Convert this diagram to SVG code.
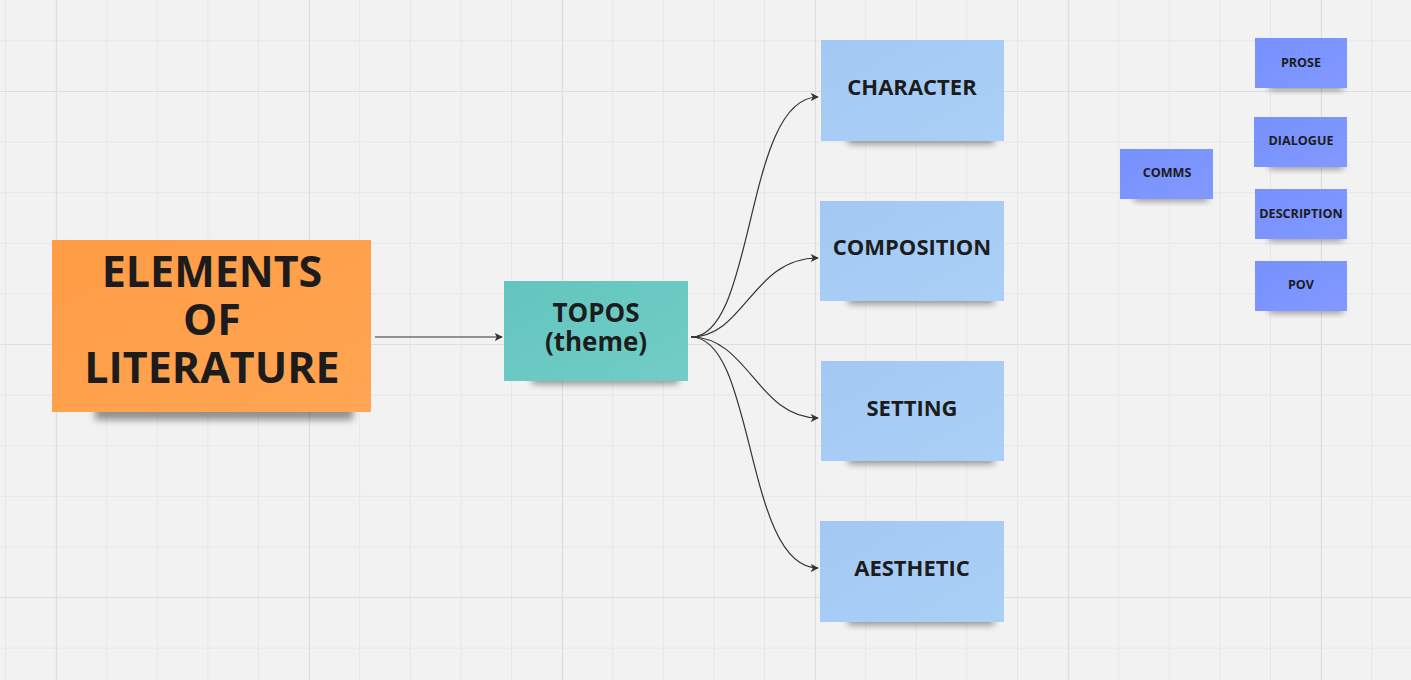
<svg xmlns="http://www.w3.org/2000/svg" width="1411" height="680" viewBox="0 0 1411 680">
<style>
.t{font-family:"Open Sans","Noto Sans","Liberation Sans",sans-serif;font-weight:700;fill:#1c1c1c;text-anchor:middle}
.big{font-size:43px}
.mid{font-size:26px}
.std{font-size:22px}
.sm{font-size:12.6px}
.edge{fill:none;stroke:#333;stroke-width:1.2}
.shadow{fill:#000;opacity:0.4;filter:url(#blur)}
</style>
<defs>
<pattern id="minor" patternUnits="userSpaceOnUse" x="5" y="40.4" width="50.6" height="50.6">
<path d="M0.5,0 V50.6 M0,0.5 H50.6" stroke="#e7e7e7" stroke-width="1" fill="none"/>
</pattern>
<pattern id="major" patternUnits="userSpaceOnUse" x="56" y="91" width="253" height="253">
<path d="M0.5,0 V253 M0,0.5 H253" stroke="#dedede" stroke-width="1.2" fill="none"/>
</pattern>
<filter id="blur" x="-20%" y="-50%" width="140%" height="200%"><feGaussianBlur stdDeviation="3.5"/></filter>
<marker id="arr" viewBox="0 0 10 10" refX="9" refY="5" markerWidth="8" markerHeight="8" markerUnits="userSpaceOnUse" orient="auto">
<path d="M0,0 L10,5 L0,10 L2.5,5 Z" fill="#333"/>
</marker>
<linearGradient id="gOr" x1="0" y1="0" x2="1" y2="1"><stop offset="0" stop-color="#ff9c45"/><stop offset="1" stop-color="#ffa553"/></linearGradient>
<linearGradient id="gTe" x1="0" y1="0" x2="1" y2="1"><stop offset="0" stop-color="#63c5bf"/><stop offset="1" stop-color="#72cdc6"/></linearGradient>
<linearGradient id="gBl" x1="0" y1="0" x2="1" y2="1"><stop offset="0" stop-color="#a3c8f3"/><stop offset="1" stop-color="#abd0f7"/></linearGradient>
<linearGradient id="gPu" x1="0" y1="0" x2="1" y2="1"><stop offset="0" stop-color="#7890fe"/><stop offset="1" stop-color="#8199ff"/></linearGradient>
</defs>
<rect width="1411" height="680" fill="#f2f2f2"/>
<rect width="1411" height="680" fill="url(#minor)"/>
<rect width="1411" height="680" fill="url(#major)"/>

<g id="connectors">
<path class="edge" d="M375,337 H502" marker-end="url(#arr)"/>
<path class="edge" d="M691,337 C756,337 744,97 818,97" marker-end="url(#arr)"/>
<path class="edge" d="M691,337 C745,337 752,258 818,258" marker-end="url(#arr)"/>
<path class="edge" d="M691,337 C748,337 758,418 818,418" marker-end="url(#arr)"/>
<path class="edge" d="M691,337 C756,337 744,568 818,568" marker-end="url(#arr)"/>
</g>

<g id="elements">
<rect class="shadow" x="95" y="398" width="258" height="22"/>
<rect x="52" y="240" width="319" height="172" fill="url(#gOr)"/>
<text class="t big" x="212" y="287">ELEMENTS</text>
<text class="t big" x="212" y="335">OF</text>
<text class="t big" x="212" y="383">LITERATURE</text>
</g>

<g id="topos">
<rect class="shadow" x="532" y="370" width="146" height="14"/>
<rect x="504" y="281" width="184" height="100" fill="url(#gTe)"/>
<text class="t mid" x="596" y="322">TOPOS</text>
<text class="t mid" x="596" y="351">(theme)</text>
</g>

<g id="character">
<rect class="shadow" x="848" y="130" width="146" height="14"/>
<rect x="821" y="40" width="183" height="101" fill="url(#gBl)"/>
<text class="t std" x="912" y="95">CHARACTER</text>
</g>

<g id="composition">
<rect class="shadow" x="848" y="290" width="146" height="14"/>
<rect x="820" y="201" width="184" height="100" fill="url(#gBl)"/>
<text class="t std" x="912" y="255">COMPOSITION</text>
</g>

<g id="setting">
<rect class="shadow" x="848" y="450" width="146" height="14"/>
<rect x="821" y="361" width="183" height="100" fill="url(#gBl)"/>
<text class="t std" x="912" y="416">SETTING</text>
</g>

<g id="aesthetic">
<rect class="shadow" x="848" y="611" width="146" height="14"/>
<rect x="820" y="521" width="184" height="101" fill="url(#gBl)"/>
<text class="t std" x="912" y="576">AESTHETIC</text>
</g>

<g id="comms">
<rect class="shadow" x="1134" y="192" width="74" height="9"/>
<rect x="1120" y="149" width="93" height="50" fill="url(#gPu)"/>
<text class="t sm" x="1167" y="177">COMMS</text>
</g>

<g id="prose">
<rect class="shadow" x="1269" y="81" width="74" height="9"/>
<rect x="1255" y="38" width="92" height="50" fill="url(#gPu)"/>
<text class="t sm" x="1301" y="66.5">PROSE</text>
</g>

<g id="dialogue">
<rect class="shadow" x="1269" y="160" width="74" height="9"/>
<rect x="1254" y="117" width="93" height="50" fill="url(#gPu)"/>
<text class="t sm" x="1301" y="144.5">DIALOGUE</text>
</g>

<g id="description">
<rect class="shadow" x="1269" y="232" width="74" height="9"/>
<rect x="1255" y="189" width="92" height="50" fill="url(#gPu)"/>
<text class="t sm" x="1301" y="217.5">DESCRIPTION</text>
</g>

<g id="pov">
<rect class="shadow" x="1269" y="304" width="74" height="9"/>
<rect x="1255" y="261" width="92" height="50" fill="url(#gPu)"/>
<text class="t sm" x="1301" y="288.5">POV</text>
</g>
</svg>
